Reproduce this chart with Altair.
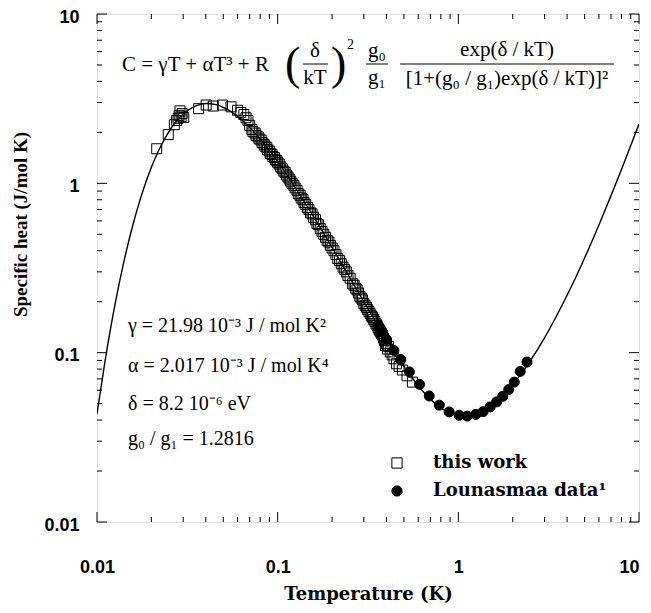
import altair as alt
import pandas as pd

# ---------------- data ----------------
curve_T = [0.010, 0.011, 0.012, 0.013, 0.014, 0.015, 0.016, 0.017, 0.018, 0.020, 0.022,
           0.025, 0.027, 0.030, 0.035, 0.040, 0.045, 0.050, 0.060, 0.070, 0.080, 0.100,
           0.120, 0.150, 0.200, 0.250, 0.300, 0.400, 0.500, 0.600, 0.700, 0.800, 0.900,
           1.0, 1.1, 1.2, 1.5, 2.0, 2.5, 3.0, 4.0, 5.0, 6.0, 7.0, 8.0, 10.0]
curve_C = [0.0435, 0.0851, 0.147, 0.230, 0.3345, 0.458, 0.597, 0.749, 0.910, 1.244, 1.573,
           2.02, 2.27, 2.566, 2.861, 2.959, 2.925, 2.812, 2.485, 2.138, 1.827, 1.342,
           1.011, 0.696, 0.4183, 0.2788, 0.1999, 0.1199, 0.0830, 0.0638, 0.0531, 0.0471, 0.0438,
           0.0423, 0.0420, 0.0426, 0.0479, 0.0647, 0.0894, 0.1224, 0.2182, 0.3627, 0.5681,
           0.8461, 1.2088, 2.237]

work_T = [0.0214, 0.0248, 0.0268, 0.0276, 0.0281, 0.0285, 0.0288, 0.0292, 0.0296, 0.0302,
          0.0365, 0.0402, 0.0440, 0.0495, 0.0552, 0.0600, 0.0625, 0.0650, 0.0668, 0.0685,
          0.070, 0.072, 0.073, 0.075, 0.076, 0.078, 0.079, 0.081, 0.082, 0.084,
          0.085, 0.087, 0.088, 0.090, 0.091, 0.093, 0.094, 0.096, 0.097, 0.099,
          0.100, 0.102, 0.104, 0.106, 0.108, 0.110, 0.112, 0.114, 0.116, 0.118,
          0.120, 0.123, 0.125, 0.128, 0.130, 0.133, 0.135, 0.138, 0.140, 0.143,
          0.146, 0.149, 0.152, 0.155, 0.158, 0.162, 0.165, 0.168, 0.172, 0.176,
          0.180, 0.184, 0.188, 0.192, 0.196, 0.200, 0.205, 0.210, 0.215, 0.220,
          0.225, 0.230, 0.235, 0.240, 0.245, 0.252, 0.260, 0.265, 0.270, 0.275,
          0.280, 0.285, 0.290, 0.295, 0.300, 0.305, 0.310, 0.315, 0.320, 0.325,
          0.330, 0.335, 0.340, 0.345, 0.350, 0.355, 0.360, 0.365, 0.370, 0.375,
          0.380, 0.385, 0.390, 0.395, 0.400, 0.405, 0.410, 0.420, 0.430, 0.440,
          0.455, 0.470, 0.490, 0.520, 0.557]
work_C = [1.60, 1.94, 2.22, 2.35, 2.42, 2.52, 2.68, 2.47, 2.58, 2.45,
          2.76, 2.90, 2.86, 2.90, 2.83, 2.70, 2.62, 2.55, 2.44, 2.35,
          2.20, 2.08, 2.02, 1.98, 1.92, 1.88, 1.83, 1.80, 1.74, 1.70,
          1.66, 1.63, 1.58, 1.55, 1.50, 1.48, 1.44, 1.42, 1.38, 1.36,
          1.33, 1.30, 1.25, 1.22, 1.18, 1.16, 1.12, 1.09, 1.06, 1.03,
          1.00, 0.97, 0.94, 0.91, 0.87, 0.85, 0.82, 0.80, 0.77, 0.75,
          0.72, 0.70, 0.67, 0.66, 0.63, 0.61, 0.58, 0.57, 0.54, 0.52,
          0.50, 0.48, 0.46, 0.45, 0.43, 0.415, 0.40, 0.38, 0.36, 0.35,
          0.335, 0.32, 0.31, 0.30, 0.285, 0.275, 0.255, 0.25, 0.24, 0.235,
          0.225, 0.215, 0.21, 0.205, 0.195, 0.19, 0.185, 0.18, 0.175, 0.17,
          0.165, 0.162, 0.157, 0.153, 0.148, 0.145, 0.14, 0.136, 0.133, 0.13,
          0.127, 0.122, 0.118, 0.110, 0.113, 0.105, 0.109, 0.101, 0.097, 0.092,
          0.086, 0.083, 0.079, 0.073, 0.067]

loun_T = [0.36, 0.38, 0.40, 0.44, 0.48, 0.536, 0.61, 0.69, 0.785, 0.89, 1.01, 1.12,
          1.25, 1.37, 1.50, 1.63, 1.76, 1.90, 2.04, 2.20, 2.40]
loun_C = [0.145, 0.132, 0.120, 0.103, 0.091, 0.077, 0.065, 0.0555, 0.049, 0.0447, 0.0427,
          0.0422, 0.0432, 0.0448, 0.0478, 0.0512, 0.0552, 0.0605, 0.067, 0.0775, 0.088]

series_names = ["this work", "Lounasmaa data\u00b9"]

x_major = [0.01, 0.1, 1, 10]
y_major = [0.01, 0.1, 1, 10]
minor_mult = [2, 3, 4, 5, 6, 7, 8, 9]
decades = [0.01, 0.1, 1]
minor_vals = [round(m * d, 4) for d in decades for m in minor_mult]

# ---------------- layout ----------------
W, H = 542, 508
MAJ, MIN = 10, 5

pts = pd.DataFrame({
    "T": loun_T + work_T,
    "C": loun_C + work_C,
    "series": [series_names[1]] * len(loun_T) + [series_names[0]] * len(work_T),
})
curve = pd.DataFrame({"T": curve_T, "C": curve_C})

xs = alt.Scale(type="log", domain=[0.01, 10], nice=False)
ys = alt.Scale(type="log", domain=[0.01, 10], nice=False)

x_axis = alt.Axis(values=x_major, format="~g", ticks=False, tickSize=0, domain=False, grid=False,
                  labelFont="Liberation Sans", labelFontWeight="bold", labelFontSize=18,
                  labelColor="black", labelFlush=False, labelPadding=45, labelBaseline="middle",
                  labelAlign={"condition": {"test": "datum.value >= 10", "value": "right"},
                              "value": "center"},
                  title="Temperature (K)", titleFont="DejaVu Serif", titleFontWeight="bold",
                  titleFontSize=18, titleColor="black", titleY=72, titleBaseline="middle")
y_axis = alt.Axis(values=y_major, format="~g", ticks=False, tickSize=0, domain=False, grid=False,
                  labelFont="Liberation Sans", labelFontWeight="bold", labelFontSize=18,
                  labelColor="black", labelFlush=False, labelPadding=18, labelBaseline="middle",
                  labelOffset=3,
                  title="Specific heat (J/mol  K)", titleFont="Liberation Serif",
                  titleFontWeight="bold", titleFontSize=19, titleColor="black",
                  titleX=-77, titleY=210, titleBaseline="middle", titleAngle=270)

X = lambda f: alt.X(f, scale=xs, axis=x_axis)
Y = lambda f: alt.Y(f, scale=ys, axis=y_axis)

line = alt.Chart(curve).mark_line(color="black", strokeWidth=1.4, interpolate="monotone", clip=True).encode(
    x=X("T:Q"), y=Y("C:Q"),
)

leg = alt.Legend(title=None, orient="none", legendX=291, legendY=440, padding=0,
                 labelFont="DejaVu Serif", labelFontWeight="bold", labelFontSize=18,
                 labelColor="black", labelOffset=27, labelLimit=400, rowPadding=10,
                 symbolSize=105, symbolStrokeWidth=1)

points = alt.Chart(pts).mark_point(strokeWidth=1, opacity=1, size=100).encode(
    x=X("T:Q"), y=Y("C:Q"),
    shape=alt.Shape("series:N", scale=alt.Scale(domain=series_names, range=["square", "circle"]), legend=leg),
    fill=alt.Fill("series:N", scale=alt.Scale(domain=series_names, range=["transparent", "black"]), legend=leg),
    stroke=alt.Stroke("series:N", scale=alt.Scale(domain=series_names, range=["black", "black"]), legend=leg),
)


def xticks(vals, length, top):
    y0 = 0 if top else H
    y1 = length if top else H - length
    return alt.Chart(pd.DataFrame({"T": vals})).mark_rule(color="black", strokeWidth=1).encode(
        x=X("T:Q"), y=alt.value(y0), y2=alt.value(y1))


def yticks(vals, length, right):
    x0 = W if right else 0
    x1 = W - length if right else length
    return alt.Chart(pd.DataFrame({"C": vals})).mark_rule(color="black", strokeWidth=1).encode(
        y=Y("C:Q"), x=alt.value(x0), x2=alt.value(x1))


ticks = [xticks(x_major, MAJ, False), xticks(x_major, MAJ, True),
         xticks(minor_vals, MIN, False), xticks(minor_vals, MIN, True),
         yticks(y_major, MAJ, False), yticks(y_major, MAJ, True),
         yticks(minor_vals, MIN, False), yticks(minor_vals, MIN, True)]


def txt(s, x, y, size=20, align="left", font="Liberation Serif", weight="normal"):
    return alt.Chart(pd.DataFrame({"t": [s]})).mark_text(
        font=font, fontSize=size, fontWeight=weight, align=align, baseline="middle", color="black"
    ).encode(x=alt.value(x), y=alt.value(y), text="t:N")


def hline(x0, x1, y):
    return alt.Chart(pd.DataFrame({"a": [0]})).mark_rule(color="black", strokeWidth=1).encode(
        x=alt.value(x0), x2=alt.value(x1), y=alt.value(y))


texts = [
    txt("C = \u03b3T + \u03b1T\u00b3 + R", 25, 51, 21),
    txt("(", 188, 51, 46),
    txt("\u03b4", 218, 37, 21, "center"),
    hline(206, 231, 50),
    txt("kT", 218, 64, 21, "center"),
    txt(")", 234, 51, 46),
    txt("2", 250, 31, 14),
    txt("g\u2080", 280, 37, 21, "center"),
    hline(269, 291, 50),
    txt("g\u2081", 280, 64, 21, "center"),
    txt("exp(\u03b4 / kT)", 410, 36, 21, "center"),
    hline(303, 517, 50),
    txt("[1+(g\u2080 / g\u2081)exp(\u03b4 / kT)]\u00b2", 410, 65, 21, "center"),
    txt("\u03b3 = 21.98 10\u207b\u00b3 J / mol  K\u00b2", 31, 312, 20),
    txt("\u03b1 = 2.017 10\u207b\u00b3 J / mol  K\u2074", 31, 352, 20),
    txt("\u03b4 = 8.2 10\u207b\u2076 eV", 31, 390, 20),
    txt("g\u2080 / g\u2081 = 1.2816", 31, 425, 20),
]

chart = alt.layer(line, *ticks, points, *texts).properties(
    width=W, height=H,
    autosize=alt.AutoSizeParams(type="none"),
    padding={"left": 89, "top": 6, "right": 4, "bottom": 83},
).configure_view(stroke="black", strokeWidth=1).configure(background="white")

chart.save("out.html", embed_options={"renderer": "svg", "actions": False})
